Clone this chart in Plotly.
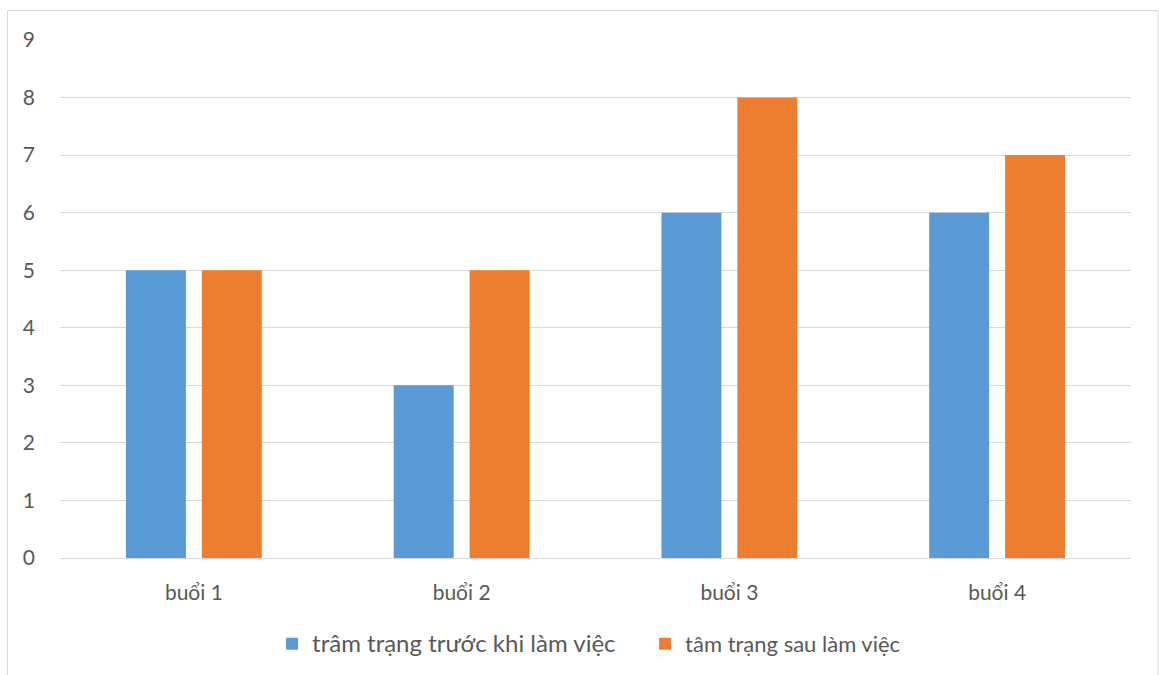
import plotly.graph_objects as go

# Session labels and mood scores
sessions = ["buổi 1", "buổi 2", "buổi 3", "buổi 4"]
before_work = [5, 3, 6, 6]
after_work = [5, 5, 8, 7]
y_ticks = [0, 1, 2, 3, 4, 5, 6, 7, 8, 9]

BLUE = "#5B9BD5"
ORANGE = "#ED7D31"
TEXT = "#595959"
GRID = "#D9D9D9"
FONT = "Lato, Open Sans, sans-serif"

fig = go.Figure()
fig.add_trace(go.Bar(
    x=sessions, y=before_work, marker_color=BLUE, marker_line_width=0,
    name="<span style='font-size:24px'>trâm trạng trước khi làm việc&nbsp;&nbsp;&nbsp;&nbsp;</span>",
))
fig.add_trace(go.Bar(
    x=sessions, y=after_work, marker_color=ORANGE, marker_line_width=0,
    name="<span style='font-size:22px'>tâm trạng sau làm việc</span>",
))

fig.update_layout(
    width=1159, height=675,
    margin=dict(l=60, r=28, t=40, b=116),
    plot_bgcolor="white", paper_bgcolor="white",
    font=dict(family=FONT, size=21, color=TEXT),
    barmode="group", bargap=0.433, bargroupgap=0.21,
    showlegend=True,
    legend=dict(
        orientation="h", x=0.494, xanchor="center", y=-0.164, yanchor="middle",
        font=dict(size=21, color=TEXT), itemwidth=30, traceorder="normal",
        itemsizing="constant",
    ),
    xaxis=dict(
        showgrid=False, showline=True, linecolor=GRID, linewidth=1,
        ticks="", tickfont=dict(size=21, color=TEXT), ticklabelstandoff=16,
    ),
    yaxis=dict(
        range=[0, 9], tickvals=y_ticks, showgrid=True, gridcolor=GRID, gridwidth=1,
        zeroline=False, showline=False, ticks="",
        tickfont=dict(size=21, color=TEXT), ticklabelstandoff=24,
    ),
    shapes=[dict(
        type="rect", xref="paper", yref="paper",
        x0=-0.049, x1=1.0252, y0=-0.233, y1=1.0568,
        line=dict(color="#D9D9D9", width=1), fillcolor="rgba(0,0,0,0)",
        layer="below",
    )],
)

fig.write_html("out.html")
